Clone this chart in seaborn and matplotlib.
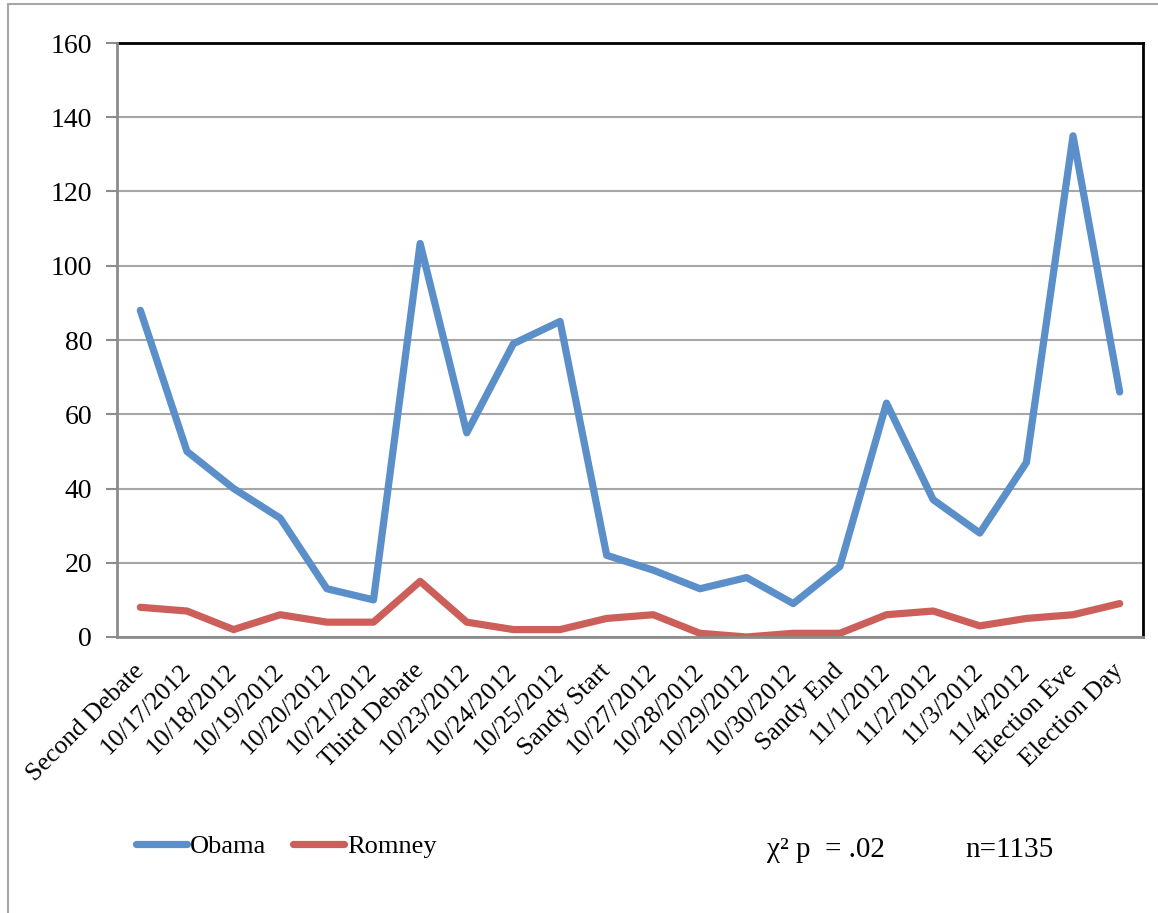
import matplotlib.pyplot as plt
import matplotlib.lines as mlines
import seaborn as sns
import pandas as pd
import numpy as np

# data
dates = ["Second Debate", "10/17/2012", "10/18/2012", "10/19/2012", "10/20/2012",
         "10/21/2012", "Third Debate", "10/23/2012", "10/24/2012", "10/25/2012",
         "Sandy Start", "10/27/2012", "10/28/2012", "10/29/2012", "10/30/2012",
         "Sandy End", "11/1/2012", "11/2/2012", "11/3/2012", "11/4/2012",
         "Election Eve", "Election Day"]
obama = [88, 50, 40, 32, 13, 10, 106, 55, 79, 85, 22, 18, 13, 16, 9, 19, 63, 37, 28, 47, 135, 66]
romney = [8, 7, 2, 6, 4, 4, 15, 4, 2, 2, 5, 6, 1, 0, 1, 1, 6, 7, 3, 5, 6, 9]
colors = {"Obama": "#5b8fca", "Romney": "#cc5f5a"}

df = pd.DataFrame({"idx": range(len(dates)), "Obama": obama, "Romney": romney})
long_df = df.melt(id_vars="idx", var_name="candidate", value_name="count")

sns.set_style("white")
plt.rcParams["font.family"] = ["Liberation Serif", "DejaVu Serif"]
plt.rcParams["text.color"] = "black"

fig = plt.figure(figsize=(11.58, 9.13), dpi=100)
ax = fig.add_axes([117 / 1158, 1 - 637 / 913, (1143 - 117) / 1158, (637 - 43) / 913])

sns.lineplot(data=long_df, x="idx", y="count", hue="candidate", palette=colors,
             linewidth=5.2, ax=ax, legend=False, zorder=3)
for ln in ax.lines:
    ln.set_solid_capstyle("round")
    ln.set_solid_joinstyle("round")

ax.set_xlim(-0.5, len(dates) - 0.5)
ax.set_ylim(0, 160)
ax.set_yticks(np.arange(0, 161, 20))
ax.yaxis.grid(True, color="#a6a6a6", linewidth=1.5)
ax.set_xlabel("")
ax.set_ylabel("")

# x labels at points, ticks between categories (Excel style)
ax.set_xticks(range(len(dates)))
ax.set_xticklabels(dates, rotation=45, ha="right", va="center", rotation_mode="anchor",
                   fontsize=18.5)
ax.set_xticks(np.arange(-0.5, len(dates)), minor=True)
ax.tick_params(axis="x", which="major", length=0, pad=22, labelcolor="black")
ax.tick_params(axis="x", which="minor", length=8, width=1.5, color="#8c8c8c", direction="out")
ax.tick_params(axis="y", length=8, width=1.5, color="#8c8c8c", direction="out",
               labelsize=20, pad=10, left=True, labelcolor="black")

for side in ["top", "right"]:
    ax.spines[side].set_color("black")
    ax.spines[side].set_linewidth(2)
for side in ["left", "bottom"]:
    ax.spines[side].set_color("#8c8c8c")
    ax.spines[side].set_linewidth(2)
    ax.spines[side].set_zorder(4)

# outer chart frame
fig.add_artist(mlines.Line2D([8 / 1158, 1], [1 - 4 / 913, 1 - 4 / 913],
                             transform=fig.transFigure, color="#a6a6a6", linewidth=1.5))
fig.add_artist(mlines.Line2D([8 / 1158, 8 / 1158], [0, 1 - 4 / 913],
                             transform=fig.transFigure, color="#a6a6a6", linewidth=1.5))

# legend
handles = [mlines.Line2D([], [], color=colors[k], linewidth=5.2, solid_capstyle="round")
           for k in ["Obama", "Romney"]]
fig.legend(handles, ["Obama", "Romney"], loc="center left",
           bbox_to_anchor=(136 / 1158, 1 - 846 / 913), ncol=2, frameon=False,
           fontsize=19, handlelength=1.95, handletextpad=0.1, columnspacing=1.0,
           borderaxespad=0, borderpad=0, labelcolor="black")

fig.text(767 / 1158, 1 - 850 / 913, "χ² p  = .02", fontsize=21, va="center", ha="left",
         color="black")
fig.text(965 / 1158, 1 - 850 / 913, "n=1135", fontsize=21, va="center", ha="left",
         color="black")

fig.savefig("out.png", dpi=100)
